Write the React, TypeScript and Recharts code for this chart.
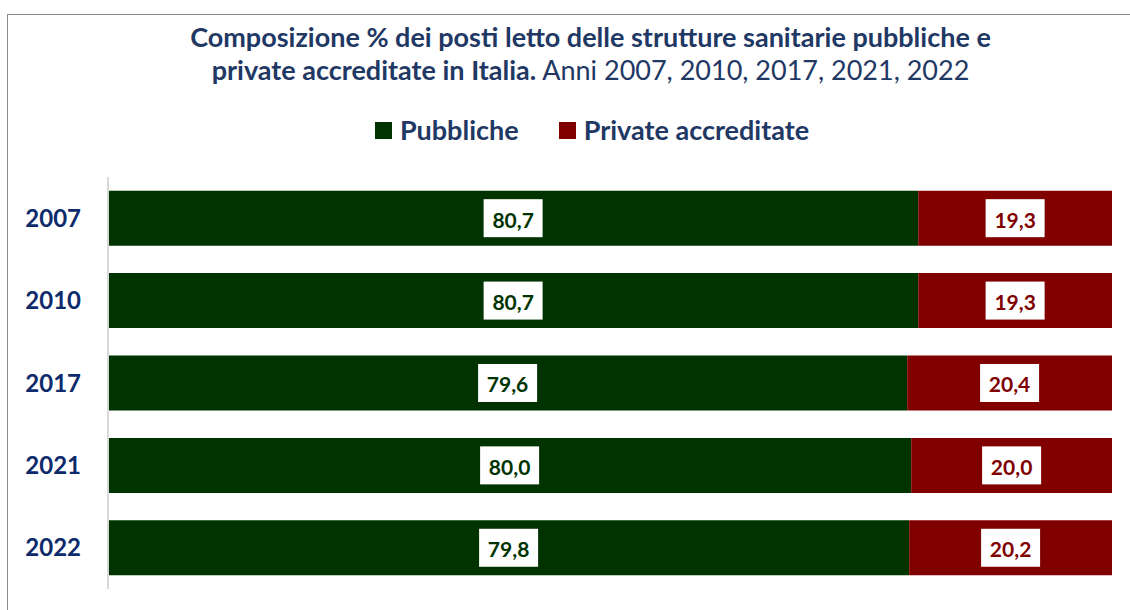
import React from 'react';
import { BarChart, Bar, XAxis, YAxis, LabelList, Legend } from 'recharts';

const years = ['2007', '2010', '2017', '2021', '2022'];
const pubbliche = [80.7, 80.7, 79.6, 80.0, 79.8];
const private_ = [19.3, 19.3, 20.4, 20.0, 20.2];

const data = years.map((year, i) => ({
  year,
  pubbliche: pubbliche[i],
  private: private_[i],
}));

const GREEN = '#003300';
const RED = '#800000';
const NAVY = '#1f3864';
const FONT = 'Lato, "Open Sans", sans-serif';

const fmt = (v: number) => v.toFixed(1).replace('.', ',');

const boxLabel = (color: string) => (props: any) => {
  const { x, y, width, height, value } = props;
  const cx = x + width / 2;
  const cy = y + height / 2;
  return (
    <g>
      <rect x={cx - 29.5} y={cy - 19} width={59} height={38} fill="#fff" />
      <text
        x={cx}
        y={cy + 1}
        textAnchor="middle"
        dominantBaseline="central"
        fill={color}
        fontFamily={FONT}
        fontWeight={700}
        fontSize={21}
      >
        {fmt(value)}
      </text>
    </g>
  );
};

const legendItems = [
  { label: 'Pubbliche', color: GREEN },
  { label: 'Private accreditate', color: RED },
];

function LegendContent() {
  return (
    <div style={{ display: 'flex', justifyContent: 'center', gap: 40, fontFamily: FONT }}>
      {legendItems.map((it) => (
        <div key={it.label} style={{ display: 'flex', alignItems: 'center' }}>
          <span style={{ width: 17, height: 17, background: it.color, display: 'inline-block', marginRight: 8 }} />
          <span style={{ color: NAVY, fontWeight: 700, fontSize: 27, lineHeight: '32px' }}>{it.label}</span>
        </div>
      ))}
    </div>
  );
}

export default function App() {
  return (
    <div style={{ position: 'fixed', left: 0, top: 0, width: 1130, height: 610, overflow: 'hidden', background: '#fff' }}>
      <div
        style={{
          position: 'absolute',
          left: 7,
          top: 14,
          width: 1300,
          height: 800,
          border: '1px solid #8c8c8c',
        }}
      />
      <div
        style={{
          position: 'absolute',
          left: 0,
          top: 20,
          width: 1181,
          textAlign: 'center',
          fontFamily: FONT,
          color: NAVY,
          fontSize: 27,
          lineHeight: '33px',
        }}
      >
        <div style={{ fontWeight: 700 }}>Composizione % dei posti letto delle strutture sanitarie pubbliche e</div>
        <div>
          <span style={{ fontWeight: 700 }}>private accreditate in Italia.</span> Anni 2007, 2010, 2017, 2021, 2022
        </div>
      </div>
      <div style={{ position: 'absolute', left: 0, top: 0 }}>
        <BarChart
          width={1130}
          height={610}
          data={data}
          layout="vertical"
          margin={{ top: 177, right: 18, bottom: 21, left: 0 }}
          barCategoryGap="16.6%"
        >
          <XAxis type="number" domain={[0, 100]} hide />
          <YAxis
            type="category"
            dataKey="year"
            width={108}
            tickSize={0}
            tickMargin={27}
            tickLine={false}
            axisLine={{ stroke: '#d9d9d9', strokeWidth: 2 }}
            tick={{ fill: '#0d2a6b', fontFamily: FONT, fontWeight: 700, fontSize: 24 }}
          />
          <Legend
            layout="horizontal"
            verticalAlign="middle"
            align="center"
            wrapperStyle={{ top: 114, left: 0, width: 1184 }}
            content={<LegendContent />}
          />
          <Bar dataKey="pubbliche" stackId="a" fill={GREEN} isAnimationActive={false}>
            <LabelList dataKey="pubbliche" content={boxLabel(GREEN)} />
          </Bar>
          <Bar dataKey="private" stackId="a" fill={RED} isAnimationActive={false}>
            <LabelList dataKey="private" content={boxLabel(RED)} />
          </Bar>
        </BarChart>
      </div>
    </div>
  );
}
